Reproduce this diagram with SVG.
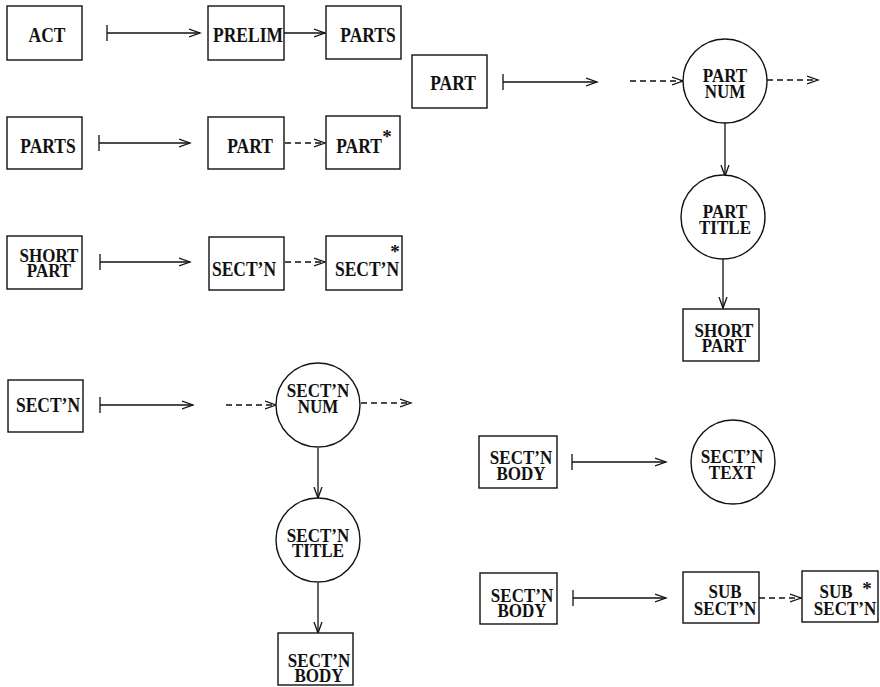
<svg xmlns="http://www.w3.org/2000/svg" width="880" height="687" viewBox="0 0 880 687">
<style>
.box{fill:#fff;stroke:#111;stroke-width:1.4}
.circ{fill:#fff;stroke:#111;stroke-width:1.4}
text{font-family:"Liberation Serif","Times New Roman",serif;font-weight:bold;font-size:17.5px;fill:#111;text-anchor:middle}
.two{font-size:17px}
.ast{font-size:19px}
.ln{stroke:#111;stroke-width:1.3;fill:none}
.ar{marker-end:url(#arr)}
.da{stroke-dasharray:6 4}
</style>
<defs>
<marker id="arr" markerUnits="userSpaceOnUse" markerWidth="14" markerHeight="12" refX="11" refY="5" orient="auto" viewBox="0 0 14 10">
<path d="M0,1 L11,5 L0,9" fill="none" stroke="#111" stroke-width="1.3"/>
</marker>
</defs>
<g id="connectors">
<path class="ln" d="M107,25 V41"/><path class="ln ar" d="M107,33 H200"/>
<path class="ln ar" d="M284,33 H325"/>
<path class="ln" d="M99,135 V151"/><path class="ln ar" d="M99,143 H190"/>
<path class="ln ar da" d="M285,143 H325"/>
<path class="ln" d="M100,254 V270"/><path class="ln ar" d="M100,262 H190"/>
<path class="ln ar da" d="M285,262 H325"/>
<path class="ln" d="M503,74 V90"/><path class="ln ar" d="M503,82 H597"/>
<path class="ln ar da" d="M630,81 H683"/>
<path class="ln ar da" d="M767,80 H818"/>
<path class="ln ar" d="M725,123 V176"/>
<path class="ln ar" d="M723,259 V308"/>
<path class="ln" d="M100,397 V413"/><path class="ln ar" d="M100,405 H193"/>
<path class="ln ar da" d="M226,405 H276"/>
<path class="ln ar da" d="M361,403 H411"/>
<path class="ln ar" d="M318,448 V498"/>
<path class="ln ar" d="M318,583 V633"/>
<path class="ln" d="M572,454 V470"/><path class="ln ar" d="M572,462 H666"/>
<path class="ln" d="M573,590 V606"/><path class="ln ar" d="M573,598 H666"/>
<path class="ln ar da" d="M759,598 H801"/>
</g>
<g id="act"><rect class="box" x="7" y="6" width="75" height="54"/><text transform="translate(47,42) scale(1,1.18)">ACT</text></g>
<g id="prelim"><rect class="box" x="208" y="6" width="76" height="54"/><text transform="translate(248,42) scale(1,1.18)">PRELIM</text></g>
<g id="parts1"><rect class="box" x="326" y="6" width="75" height="53"/><text transform="translate(368,42) scale(1,1.18)">PARTS</text></g>
<g id="part-r"><rect class="box" x="412" y="55" width="75" height="53"/><text transform="translate(453,90) scale(1,1.18)">PART</text></g>
<g id="parts2"><rect class="box" x="7" y="117" width="75" height="52"/><text transform="translate(48,153) scale(1,1.18)">PARTS</text></g>
<g id="part2"><rect class="box" x="208" y="117" width="76" height="52"/><text transform="translate(250,153) scale(1,1.18)">PART</text></g>
<g id="part-star"><rect class="box" x="326" y="116" width="74" height="53"/><text transform="translate(359,153) scale(1,1.18)">PART</text><text class="ast" x="387" y="143">*</text></g>
<g id="short-part"><rect class="box" x="7" y="236" width="75" height="53"/><text class="two" transform="translate(49,262) scale(1,1.1)"><tspan x="0">SHORT</tspan><tspan x="0" dy="14">PART</tspan></text></g>
<g id="sectn3"><rect class="box" x="209" y="237" width="75" height="53"/><text transform="translate(244,276) scale(1,1.18)">SECT’N</text></g>
<g id="sectn-star"><rect class="box" x="326" y="236" width="76" height="54"/><text transform="translate(367,276) scale(1,1.18)">SECT’N</text><text class="ast" x="395" y="258">*</text></g>
<g id="part-num"><circle class="circ" cx="725" cy="81" r="42"/><text class="two" transform="translate(725,82) scale(1,1.1)"><tspan x="0">PART</tspan><tspan x="0" dy="14.5">NUM</tspan></text></g>
<g id="part-title"><circle class="circ" cx="723" cy="217" r="42"/><text class="two" transform="translate(725,218) scale(1,1.1)"><tspan x="0">PART</tspan><tspan x="0" dy="14.5">TITLE</tspan></text></g>
<g id="short-part-r"><rect class="box" x="683" y="309" width="76" height="52"/><text class="two" transform="translate(724,337) scale(1,1.1)"><tspan x="0">SHORT</tspan><tspan x="0" dy="14">PART</tspan></text></g>
<g id="sectn4"><rect class="box" x="8" y="380" width="75" height="52"/><text transform="translate(48,412) scale(1,1.18)">SECT’N</text></g>
<g id="sectn-num"><circle class="circ" cx="318" cy="405" r="42"/><text class="two" transform="translate(318,397) scale(1,1.1)"><tspan x="0">SECT’N</tspan><tspan x="0" dy="14.5">NUM</tspan></text></g>
<g id="sectn-title"><circle class="circ" cx="318" cy="540" r="42"/><text class="two" transform="translate(318,542) scale(1,1.1)"><tspan x="0">SECT’N</tspan><tspan x="0" dy="14">TITLE</tspan></text></g>
<g id="sectn-body-b"><rect class="box" x="278" y="633" width="75" height="52"/><text class="two" transform="translate(319,667) scale(1,1.1)"><tspan x="0">SECT’N</tspan><tspan x="0" dy="14">BODY</tspan></text></g>
<g id="sectn-body1"><rect class="box" x="479" y="436" width="78" height="52"/><text class="two" transform="translate(521,464) scale(1,1.1)"><tspan x="0">SECT’N</tspan><tspan x="0" dy="14.5">BODY</tspan></text></g>
<g id="sectn-text"><circle class="circ" cx="733" cy="462" r="42"/><text class="two" transform="translate(732,463) scale(1,1.1)"><tspan x="0">SECT’N</tspan><tspan x="0" dy="14.5">TEXT</tspan></text></g>
<g id="sectn-body2"><rect class="box" x="480" y="573" width="77" height="51"/><text class="two" transform="translate(522,602) scale(1,1.1)"><tspan x="0">SECT’N</tspan><tspan x="0" dy="13.6">BODY</tspan></text></g>
<g id="sub-sectn"><rect class="box" x="683" y="572" width="76" height="51"/><text class="two" transform="translate(725,598) scale(1,1.1)"><tspan x="0">SUB</tspan><tspan x="0" dy="15.4">SECT’N</tspan></text></g>
<g id="sub-sectn-star"><rect class="box" x="802" y="571" width="76" height="51"/><text class="two" transform="translate(836,598) scale(1,1.1)"><tspan x="0">SUB</tspan><tspan x="9" dy="15.4">SECT’N</tspan></text><text class="ast" x="867" y="595">*</text></g>
</svg>
